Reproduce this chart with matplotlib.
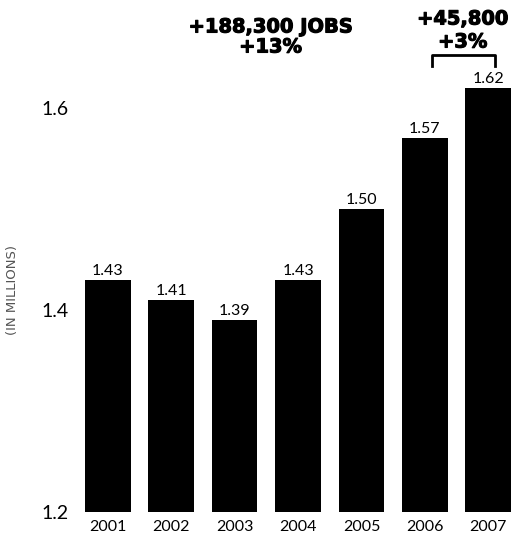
import matplotlib.pyplot as plt
import matplotlib.patheffects as pe

years = ["2001", "2002", "2003", "2004", "2005", "2006", "2007"]
jobs = [1.43, 1.41, 1.39, 1.43, 1.50, 1.57, 1.62]
yticks = [1.2, 1.4, 1.6]

fam = "Lato"
W, H = 511, 540
base_px = 512      # pixel row of the 1.2 baseline
px_per_unit = 1010

fig = plt.figure(figsize=(W / 100, H / 100), dpi=100)
ax = fig.add_axes([85 / W, (H - base_px) / H, 426 / W, base_px / H])


def yval(py):
    # data value at a given pixel row (from the top of the figure)
    return 1.2 + (base_px - py) / px_per_unit


x = list(range(len(years)))
ax.bar(x, [v - 1.2 for v in jobs], bottom=1.2, width=0.72, color="black")
for xi, v in zip(x, jobs):
    ax.text(xi, v + 0.002, f"{v:.2f}", ha="center", va="bottom",
            fontsize=11.5, family=fam)

ax.set_xlim(-0.36, 6.36)
ax.set_ylim(1.2, yval(0))
ax.set_xticks(x)
ax.set_xticklabels(years, fontsize=11.5, family=fam)
ax.set_yticks(yticks)
ax.set_yticklabels([f"{t:.1f}" for t in yticks], fontsize=14, family=fam)
ax.tick_params(length=0)
ax.tick_params(axis="x", pad=6)
ax.tick_params(axis="y", pad=12)
for s in ax.spines.values():
    s.set_visible(False)

fig.text(13 / W, 1 - 290 / H, "(IN MILLIONS)", rotation=90, ha="center",
         va="center", fontsize=9.5, color="#555555", family="DejaVu Sans")

# change annotations above the bars
heavy = dict(ha="center", va="center", fontsize=14, fontweight="bold",
             family="DejaVu Sans",
             path_effects=[pe.withStroke(linewidth=0.8, foreground="black")])
ax.text(2.57, yval(27), "+188,300 JOBS", **heavy)
ax.text(2.57, yval(47), "+13%", **heavy)
ax.text(5.6, yval(19), "+45,800", **heavy)
ax.text(5.6, yval(42), "+3%", **heavy)

yb = yval(55)
yl = yval(66)
ax.plot([5.12, 5.12, 6.1, 6.1], [yl, yb, yb, yl], color="black", lw=2,
        clip_on=False)

fig.savefig("out.png")
